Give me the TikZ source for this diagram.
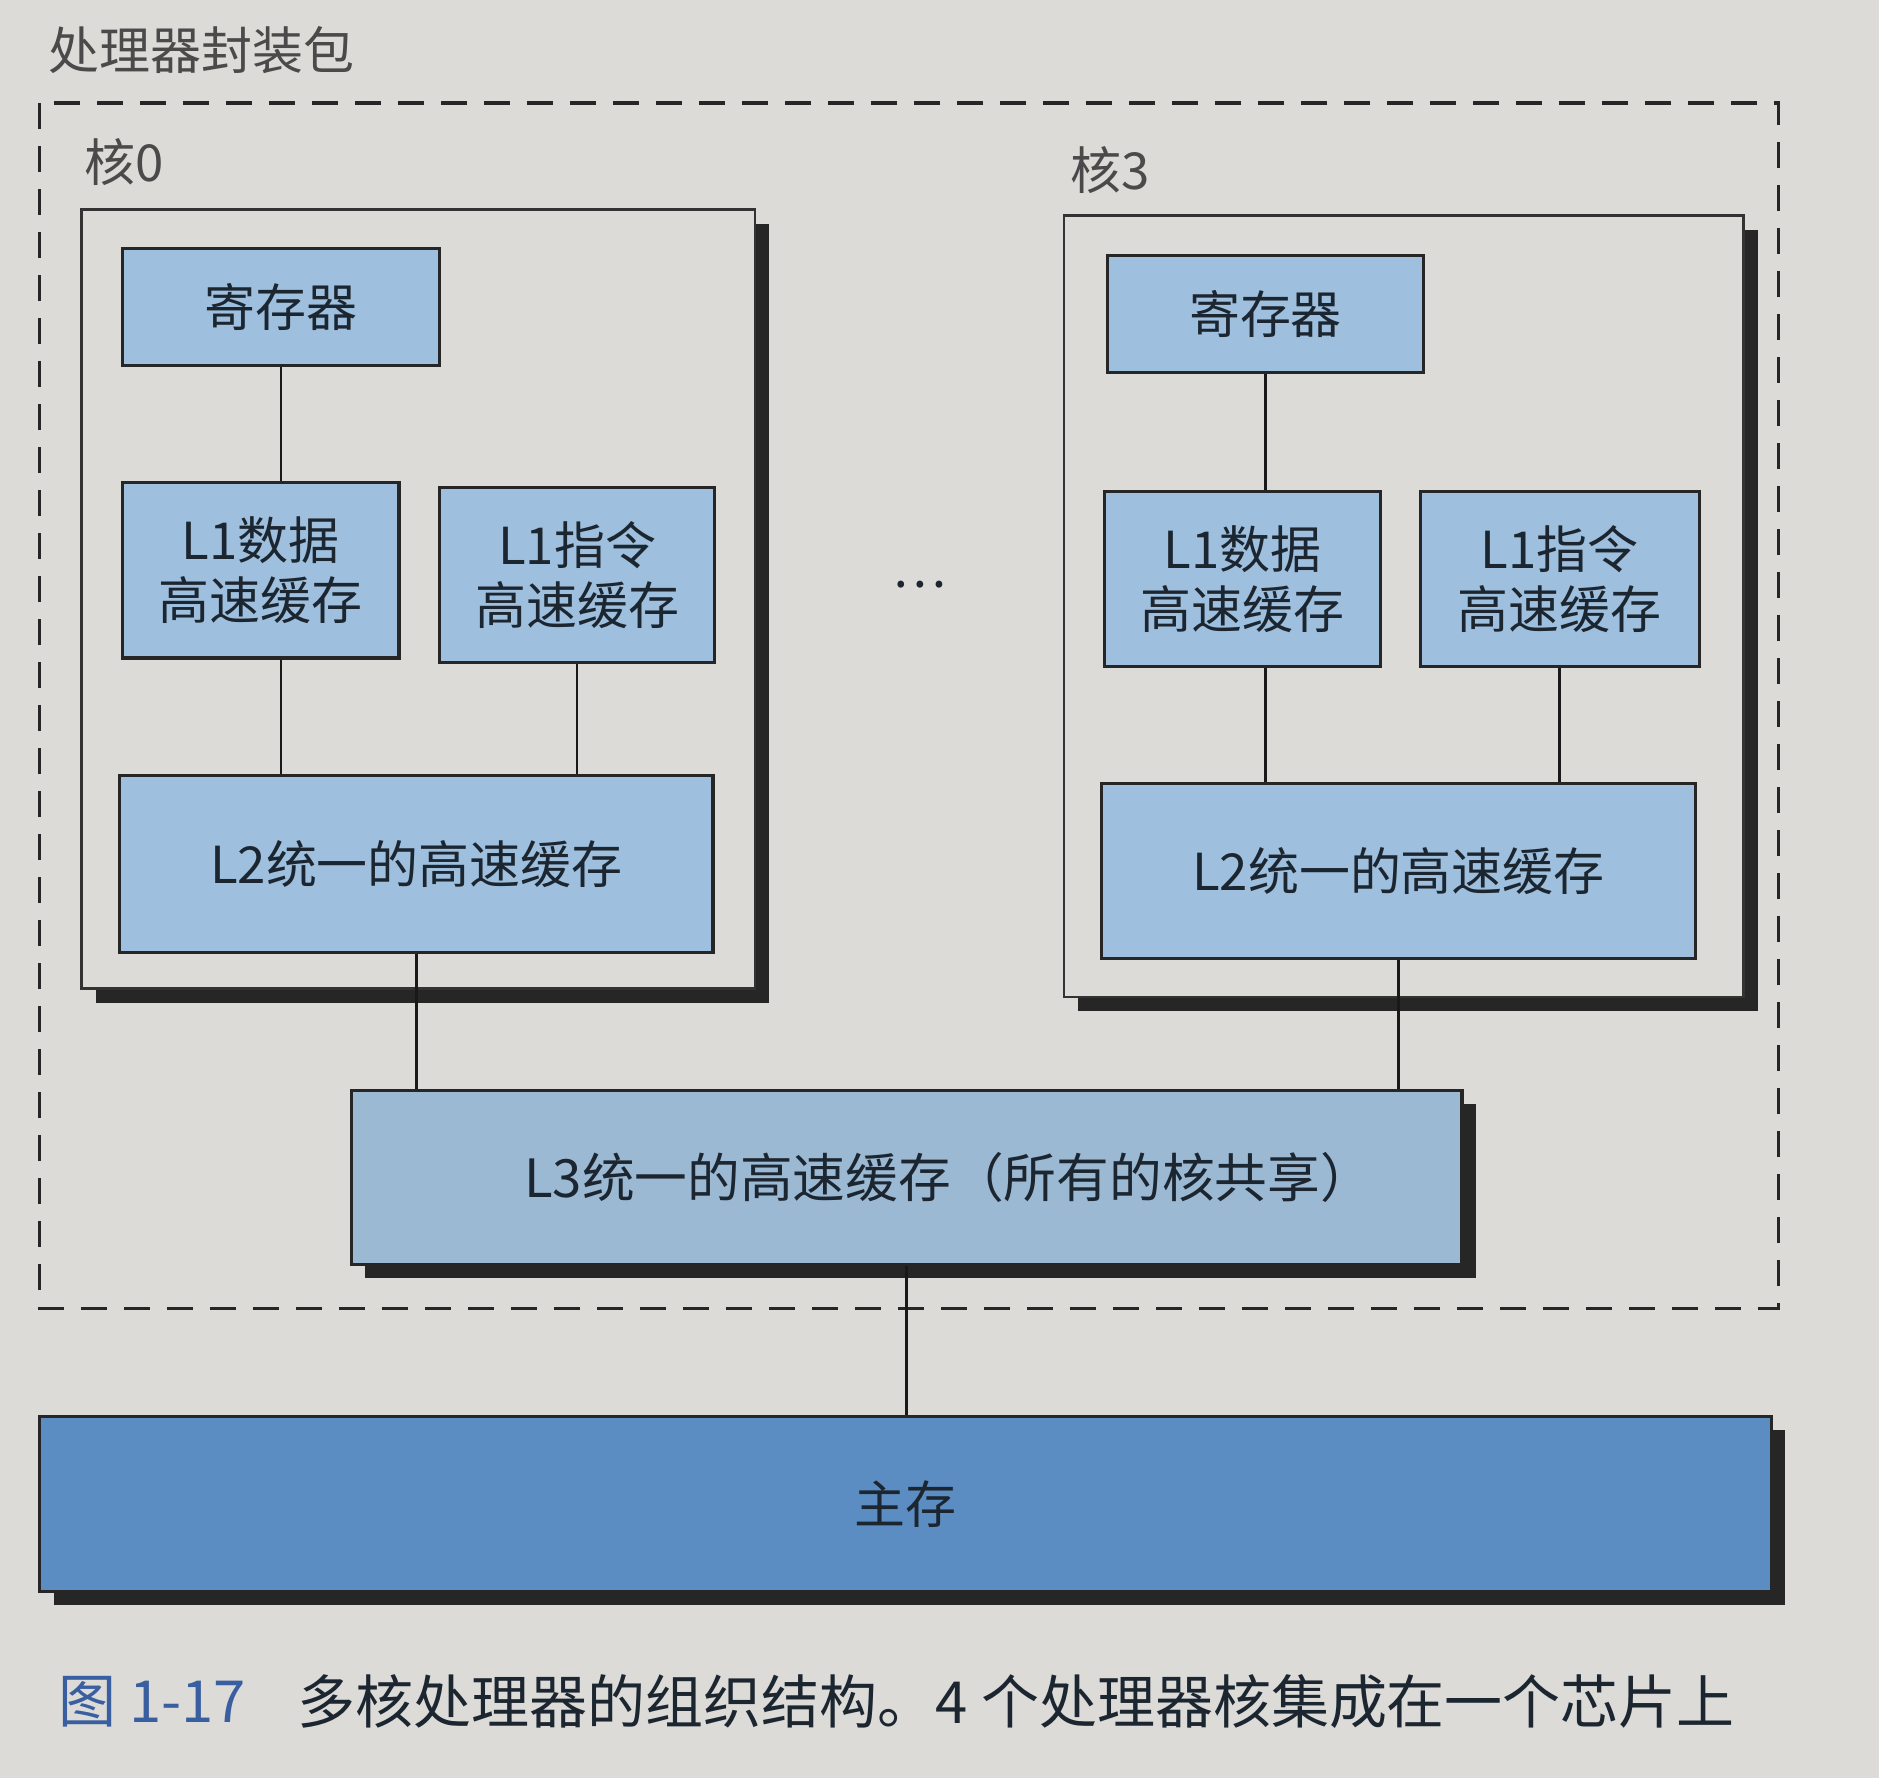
\documentclass[tikz,border=0pt]{standalone}
\usepackage{fontspec}
\setmainfont{Noto Sans CJK SC}
\usetikzlibrary{shadows}

\definecolor{paper}{HTML}{DCDBD8}
\definecolor{cacheblue}{HTML}{9EBFDD}
\definecolor{sharedblue}{HTML}{9CB9D4}
\definecolor{memblue}{HTML}{5B8DC2}
\definecolor{inkdark}{HTML}{1C2630}
\definecolor{inkgrey}{HTML}{4A4A4A}
\definecolor{figblue}{HTML}{3A5FA0}

\tikzset{
  unit/.style={draw=black!85,line width=0.9pt,fill=cacheblue,text=inkdark,
    inner sep=0pt,align=center,font=\fontsize{14.5}{17}\selectfont},
  corebox/.style={draw=black!80,line width=0.7pt,fill=paper,inner sep=0pt,
    drop shadow={shadow xshift=0.14cm,shadow yshift=-0.14cm,fill=black!85,opacity=1}},
  bigbox/.style={unit,drop shadow={shadow xshift=0.14cm,shadow yshift=-0.14cm,fill=black!85,opacity=1}},
  wire/.style={draw=black!90,line width=0.8pt},
  tag/.style={anchor=west,text=inkgrey,inner sep=0pt,font=\fontsize{14.5}{17}\selectfont}
}

\begin{document}
\begin{tikzpicture}
\fill[paper] (0,0) rectangle (18.789,-17.783);
\useasboundingbox (0,0) rectangle (18.789,-17.783);

% package
\node[tag] (pkg) at (0.479,-0.503) {处理器封装包};
\draw[black!85,line width=1pt,dash pattern=on 0.26cm off 0.17cm] (0.395,-1.031) rectangle (17.783,-13.086);

% cores
\node[tag] (name0) at (0.839,-1.618) {核0};
\node[tag] (name3) at (10.701,-1.702) {核3};
\node[corebox,minimum width=6.734cm,minimum height=7.789cm] (core0) at (4.182,-5.991) {};
\node[corebox,minimum width=6.794cm,minimum height=7.813cm] (core3) at (14.038,-6.063) {};

\node[unit,minimum width=3.176cm,minimum height=1.174cm] (reg0) at (2.810,-3.068) {寄存器};
\node[unit,minimum width=2.768cm,minimum height=1.750cm] (l1d0) at (2.606,-5.704) {L1数据\\高速缓存};
\node[unit,minimum width=2.744cm,minimum height=1.750cm] (l1i0) at (5.770,-5.752) {L1指令\\高速缓存};
\node[unit,minimum width=5.932cm,minimum height=1.773cm] (l2c0) at (4.164,-8.640) {L2统一的高速缓存};

\node[unit,minimum width=3.164cm,minimum height=1.174cm] (reg3) at (12.654,-3.140) {寄存器};
\node[unit,minimum width=2.756cm,minimum height=1.750cm] (l1d3) at (12.426,-5.788) {L1数据\\高速缓存};
\node[unit,minimum width=2.792cm,minimum height=1.750cm] (l1i3) at (15.596,-5.788) {L1指令\\高速缓存};
\node[unit,minimum width=5.944cm,minimum height=1.750cm] (l2c3) at (13.984,-8.712) {L2统一的高速缓存};

\node[text=inkdark,font=\fontsize{14.5}{17}\selectfont] (dots) at (9.191,-5.848) {…};

% shared levels
\node[bigbox,fill=sharedblue,minimum width=11.108cm,minimum height=1.738cm] (l3c) at (9.065,-11.773) {};
\node[text=inkdark,font=\fontsize{15}{18}\selectfont,xshift=0.42cm] (l3text) at (l3c) {L3统一的高速缓存（所有的核共享）};
\node[bigbox,fill=memblue,minimum width=17.316cm,minimum height=1.750cm] (mem) at (9.053,-15.039) {主存};

\draw[wire] (reg0.south) -- (reg0.south |- l1d0.north);
\draw[wire] (reg0.south |- l1d0.south) -- (reg0.south |- l2c0.north);
\draw[wire] (l1i0.south) -- (l1i0.south |- l2c0.north);
\draw[wire] (l2c0.south) -- (l2c0.south |- l3c.north);
\draw[wire] (reg3.south) -- (reg3.south |- l1d3.north);
\draw[wire] (reg3.south |- l1d3.south) -- (reg3.south |- l2c3.north);
\draw[wire] (l1i3.south) -- (l1i3.south |- l2c3.north);
\draw[wire] (l2c3.south) -- (l2c3.south |- l3c.north);
\draw[wire] (l3c.south) -- (l3c.south |- mem.north);

% caption
\node[anchor=west,text=figblue,inner sep=0pt,font=\fontsize{16.5}{20}\selectfont] (fignum) at (0.575,-17.016) {图 1-17};
\node[anchor=west,text=inkdark,inner sep=0pt,font=\fontsize{16.5}{20}\selectfont] (caption) at (2.972,-17.016) {多核处理器的组织结构。4 个处理器核集成在一个芯片上};
\end{tikzpicture}
\end{document}
